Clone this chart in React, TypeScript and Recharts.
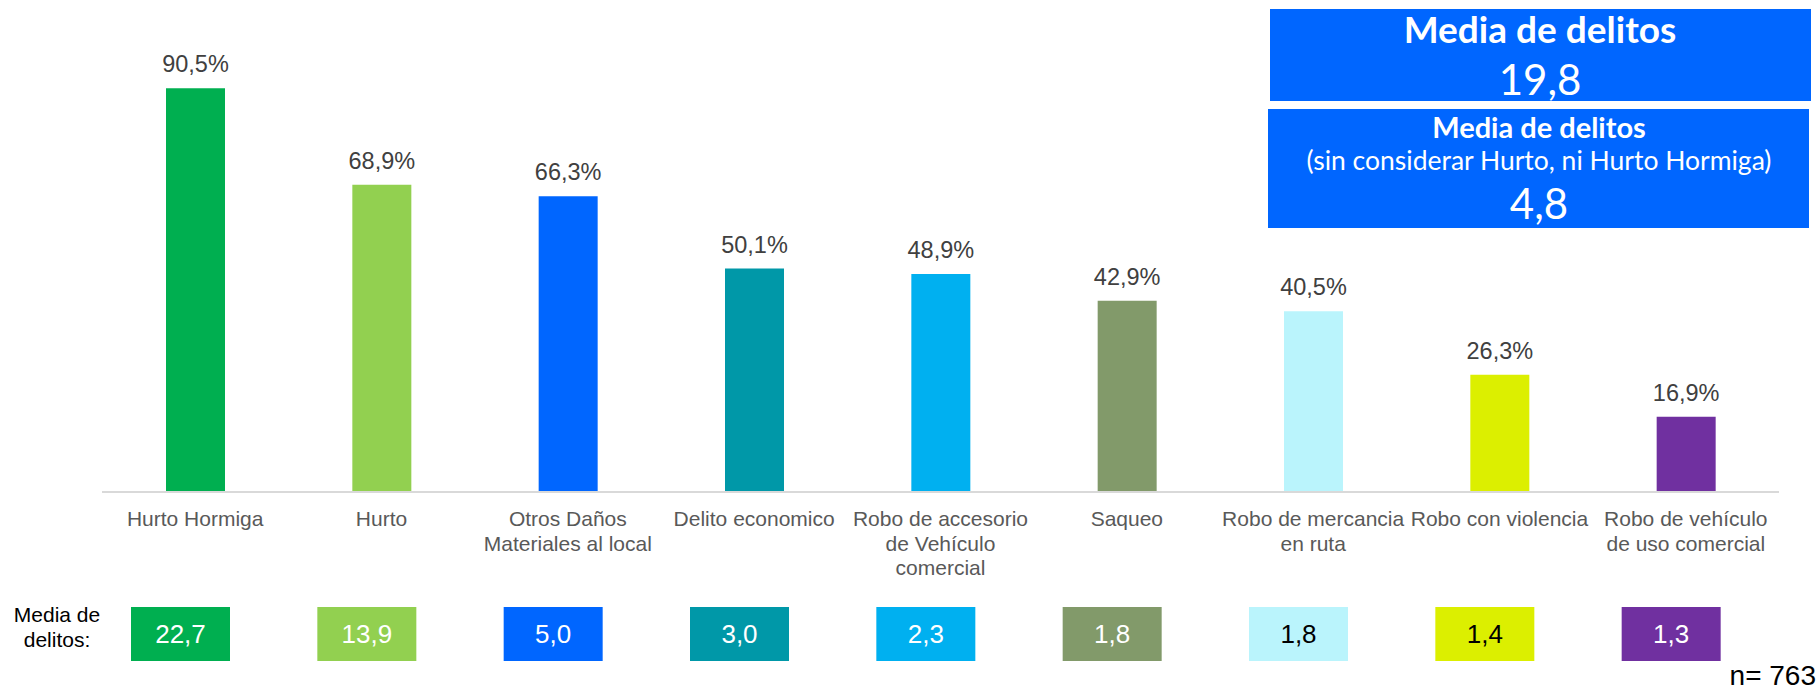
import { BarChart, Bar, XAxis, YAxis, Cell, LabelList } from 'recharts';

const categories = [
    'Hurto Hormiga',
    'Hurto',
    'Otros Daños\nMateriales al local',
    'Delito economico',
    'Robo de accesorio\nde Vehículo\ncomercial',
    'Saqueo',
    'Robo de mercancia\nen ruta',
    'Robo con violencia',
    'Robo de vehículo\nde uso comercial',
];
const percentages = [90.5, 68.9, 66.3, 50.1, 48.9, 42.9, 40.5, 26.3, 16.9];
const meanCrimes = [22.7, 13.9, 5.0, 3.0, 2.3, 1.8, 1.8, 1.4, 1.3];
const overallMean = 19.8;
const meanWithoutHurto = 4.8;
const sampleSize = 763;

const barColors = ['#00AF50', '#92D050', '#0066FF', '#0098A8', '#00B0F0', '#829A6A', '#BAF4FC', '#DCEF00', '#7030A0'];
const meanTextColors = ['#fff', '#fff', '#fff', '#fff', '#fff', '#fff', '#000', '#000', '#fff'];

const data = categories.map((name, i) => ({
    name,
    pct: percentages[i],
    media: meanCrimes[i],
}));

const fmt = (v: number, d = 1) => v.toFixed(d).replace('.', ',');

const FONT = 'Arial, "Liberation Sans", sans-serif';

function CategoryTick(props: any) {
    const { x, y, payload } = props;
    const lines = String(payload.value).split('\n');
    return (
        <text x={x} y={y} textAnchor="middle" fill="#595959" fontSize={21} fontFamily={FONT}>
            {lines.map((line, i) => (
                <tspan key={i} x={x} y={y + 34 + i * 24.5}>{line}</tspan>
            ))}
        </text>
    );
}

function ValueLabel(props: any) {
    const { x, y, width, value } = props;
    return (
        <text x={x + width / 2} y={y - 16} textAnchor="middle" fill="#404040" fontSize={23.5} fontFamily={FONT}>
            {fmt(value)}%
        </text>
    );
}

function MeanBox(props: any) {
    const { x, width, value, index } = props;
    const cx = x + width / 2 - 15;
    return (
        <g>
            <rect x={cx - 49.5} y={607} width={99} height={54} fill={barColors[index]} />
            <text x={cx} y={643} textAnchor="middle" fill={meanTextColors[index]} fontSize={26} fontFamily={FONT}>
                {fmt(value)}
            </text>
        </g>
    );
}

function App() {
    return (
        <div style={{ position: 'absolute', left: 0, top: 0, width: 1819, height: 691, background: '#fff' }}>
            <BarChart
                width={1819}
                height={691}
                data={data}
                margin={{ top: 46, right: 40, left: 102, bottom: 169 }}
                barSize={59}
            >
                <XAxis
                    dataKey="name"
                    height={30}
                    interval={0}
                    tickSize={0}
                    tickMargin={0}
                    tickLine={false}
                    axisLine={{ stroke: '#D9D9D9', strokeWidth: 2 }}
                    tick={<CategoryTick />}
                />
                <YAxis hide domain={[0, 100]} />
                <Bar dataKey="pct" isAnimationActive={false}>
                    {data.map((_, i) => (
                        <Cell key={i} fill={barColors[i]} />
                    ))}
                    <LabelList dataKey="pct" content={<ValueLabel />} />
                    <LabelList dataKey="media" content={<MeanBox />} />
                </Bar>
            </BarChart>

            <svg width={1819} height={691} style={{ position: 'absolute', left: 0, top: 0, pointerEvents: 'none' }}>
                <text x={57} textAnchor="middle" fill="#000" fontSize={21} fontFamily={FONT}>
                    <tspan x={57} y={622}>Media de</tspan>
                    <tspan x={57} y={647}>delitos:</tspan>
                </text>
                <text x={1816} y={685} textAnchor="end" fill="#000" fontSize={28} fontFamily={FONT}>
                    n= {sampleSize}
                </text>

                <rect x={1270} y={9} width={541} height={92} fill="#0066FF" />
                <text x={1540} y={43} textAnchor="middle" fill="#fff" fontSize={37} fontWeight={700} fontFamily="Lato">
                    Media de delitos
                </text>
                <text x={1540} y={95} textAnchor="middle" fill="#fff" fontSize={42} fontFamily="Lato">
                    {fmt(overallMean)}
                </text>

                <rect x={1268} y={109} width={541} height={119} fill="#0066FF" />
                <text x={1539} y={138} textAnchor="middle" fill="#fff" fontSize={29} fontWeight={700} fontFamily="Lato">
                    Media de delitos
                </text>
                <text x={1539} y={170} textAnchor="middle" fill="#fff" fontSize={26.5} fontFamily="Lato">
                    (sin considerar Hurto, ni Hurto Hormiga)
                </text>
                <text x={1539} y={219} textAnchor="middle" fill="#fff" fontSize={42} fontFamily="Lato">
                    {fmt(meanWithoutHurto)}
                </text>
            </svg>
        </div>
    );
}

export default App;
